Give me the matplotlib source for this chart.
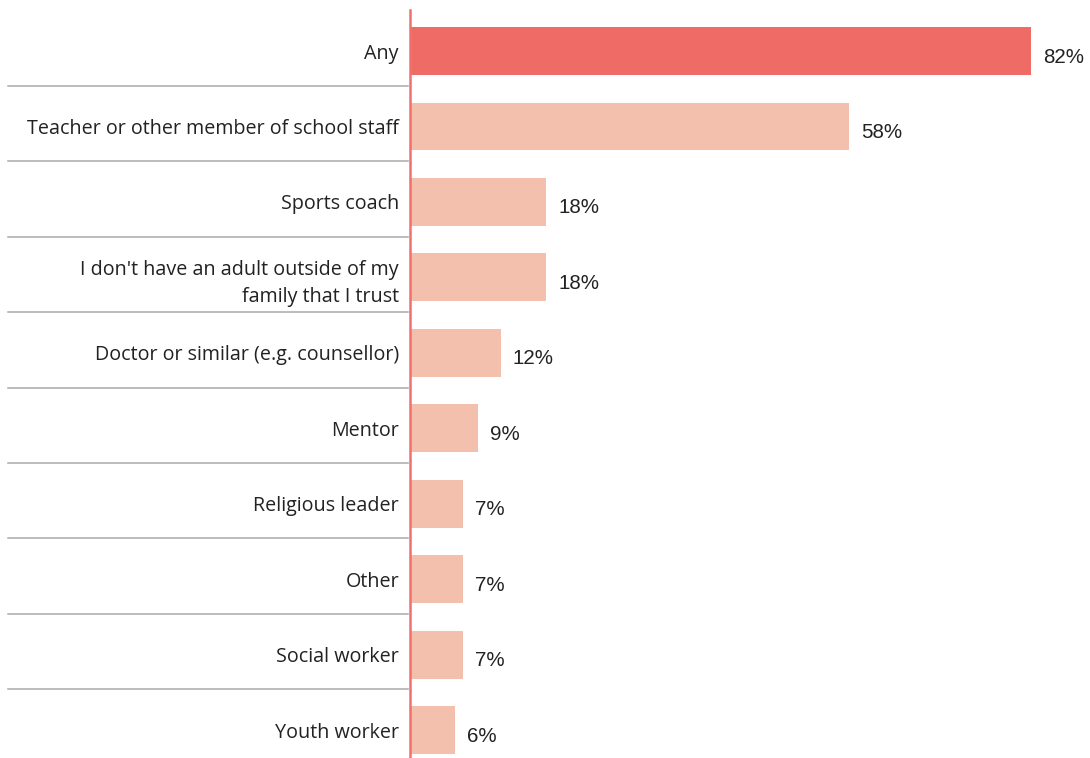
import matplotlib.pyplot as plt

categories = [
    "Any",
    "Teacher or other member of school staff",
    "Sports coach",
    "I don't have an adult outside of my\nfamily that I trust",
    "Doctor or similar (e.g. counsellor)",
    "Mentor",
    "Religious leader",
    "Other",
    "Social worker",
    "Youth worker",
]
values = [82, 58, 18, 18, 12, 9, 7, 7, 7, 6]

main_color = "#ee6b66"
light_color = "#f4c0ae"
text_color = "#222222"

fig = plt.figure(figsize=(10.9, 7.58), dpi=100)
ax = fig.add_axes([410 / 1090, 0, 680 / 1090, 748 / 758])

y = list(range(len(values)))
colors = [main_color] + [light_color] * (len(values) - 1)
ax.barh(y, values, height=0.636, color=colors, zorder=2)

ax.set_xlim(0, 680 / 7.573)
ax.set_ylim(len(values) - 1 + 0.37, -0.544)

# value labels
for i, v in enumerate(values):
    ax.annotate(f"{v}%", xy=(v, i), xytext=(8.6, -4.3), textcoords="offset points",
                ha="left", va="center", fontsize=14.8, color=text_color,
                family="Liberation Sans")

ax.set_yticks(y)
ax.set_yticklabels(categories, fontsize=14.2, color=text_color, family="Open Sans",
                   linespacing=1.45)
ax.tick_params(axis="y", length=0, pad=8)
ax.set_xticks([])

for side in ["top", "right", "bottom"]:
    ax.spines[side].set_visible(False)
ax.spines["left"].set_color("#f07070")
ax.spines["left"].set_linewidth(1.8)
ax.spines["left"].set_zorder(3)

# separators between the rows, left of the axis
trans = ax.get_yaxis_transform()
for i in range(len(values) - 1):
    ax.plot([-402 / 680, -2 / 680], [i + 0.46, i + 0.46], transform=trans,
            color="#aaaaaa", linewidth=1.1, clip_on=False)

fig.savefig("out.png", dpi=100)
